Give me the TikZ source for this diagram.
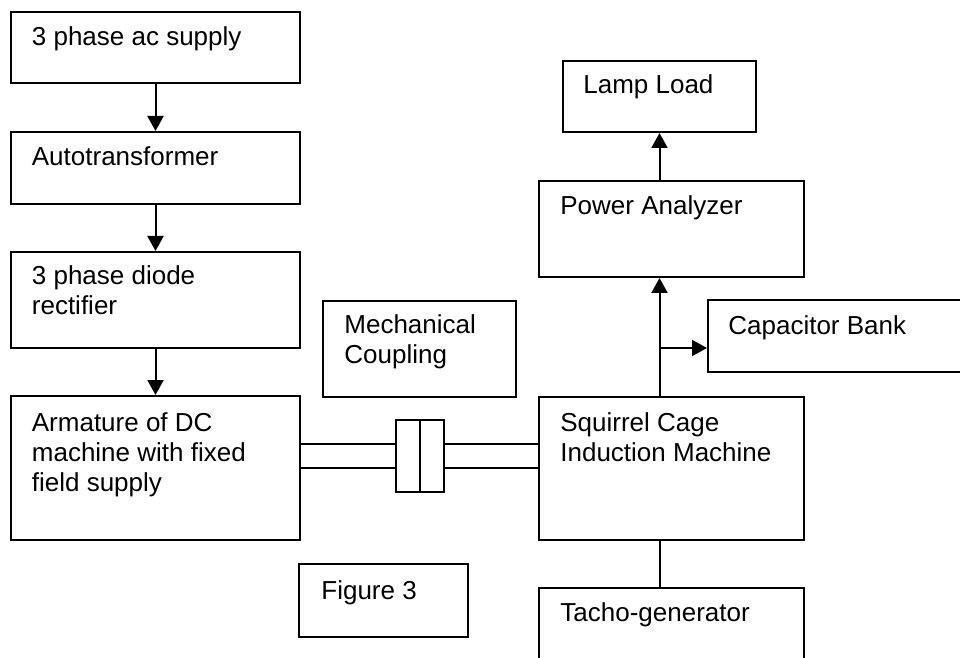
\documentclass[tikz,border=0pt]{standalone}
\usepackage{fontspec}
\setmainfont{Liberation Sans}
\usetikzlibrary{arrows.meta,fit}
\newcommand\txtlines[1]{\begin{tabular}[t]{@{}l@{}}#1\end{tabular}}
\tikzset{
  blk/.style={draw, line width=1pt, inner sep=0pt, fit={#1}},
  lbl/.style={anchor=base west, inner sep=0pt, font=\fontsize{13}{15}\selectfont},
  conn/.style={line width=1pt},
  arr/.style={line width=1pt, -{Triangle[length=7.5pt,width=8pt]}}
}
\begin{document}
\begin{tikzpicture}[x=0.5pt,y=-0.5pt]
\useasboundingbox (0,0) rectangle (960,658);
% left column
\node[blk={(11,12) (300,83)}] (sup) {};
\node[blk={(11,132) (300,204)}] (auto) {};
\node[blk={(11,252) (300,348)}] (rect) {};
\node[blk={(11,396) (300,540)}] (arm) {};
% middle
\node[blk={(323,301) (516,397)}] (mech) {};
\node[blk={(299,564) (468,637)}] (fig) {};
\node[blk={(396,420) (444,492)}] (cpl) {};
% right column
\node[blk={(563,61) (756,132)}] (lamp) {};
\node[blk={(539,181) (804,277)}] (pa) {};
\node[blk={(708,300) (990,372)}] (cap) {};
\node[blk={(539,397) (804,540)}] (scim) {};
\node[blk={(539,588) (804,720)}] (tacho) {};
% labels
\node[lbl] (supl) at ([shift={(21.5,35)}]sup.north west) {\txtlines{3 phase ac supply}};
\node[lbl] (autol) at ([shift={(21.5,35)}]auto.north west) {\txtlines{Autotransformer}};
\node[lbl] (rectl) at ([shift={(21.5,34)}]rect.north west) {\txtlines{3 phase diode\\rectifier}};
\node[lbl] (arml) at ([shift={(21.5,36)}]arm.north west) {\txtlines{Armature of DC\\machine with fixed\\field supply}};
\node[lbl] (mechl) at ([shift={(22,34)}]mech.north west) {\txtlines{Mechanical\\Coupling}};
\node[lbl] (figl) at ([shift={(23,36)}]fig.north west) {\txtlines{Figure 3}};
\node[lbl] (lampl) at ([shift={(21,34)}]lamp.north west) {\txtlines{Lamp Load}};
\node[lbl] (pal) at ([shift={(22,35)}]pa.north west) {\txtlines{Power Analyzer}};
\node[lbl] (capl) at ([shift={(21,36)}]cap.north west) {\txtlines{Capacitor Bank}};
\node[lbl] (sciml) at ([shift={(22,35)}]scim.north west) {\txtlines{Squirrel Cage\\Induction Machine}};
\node[lbl] (tachol) at ([shift={(22,34)}]tacho.north west) {\txtlines{Tacho-generator}};
% connectors left
\draw[arr] (sup.south) -- (auto.north);
\draw[arr] (auto.south) -- (rect.north);
\draw[arr] (rect.south) -- (arm.north);
% shaft
\draw[conn] (arm.east |- 0,444) -- (cpl.west |- 0,444);
\draw[conn] (arm.east |- 0,468) -- (cpl.west |- 0,468);
\draw[conn] (cpl.east |- 0,444) -- (scim.west |- 0,444);
\draw[conn] (cpl.east |- 0,468) -- (scim.west |- 0,468);
\draw[conn] (cpl.north) -- (cpl.south);
% right connectors
\coordinate (br) at (660,348);
\draw[arr] (pa.north -| lamp.south) -- (lamp.south);
\draw[arr] (scim.north -| lamp.south) -- (pa.south -| lamp.south);
\draw[arr] (br) -- (br -| cap.west);
\draw[conn] (scim.south -| lamp.south) -- (tacho.north -| lamp.south);
\end{tikzpicture}
\end{document}
